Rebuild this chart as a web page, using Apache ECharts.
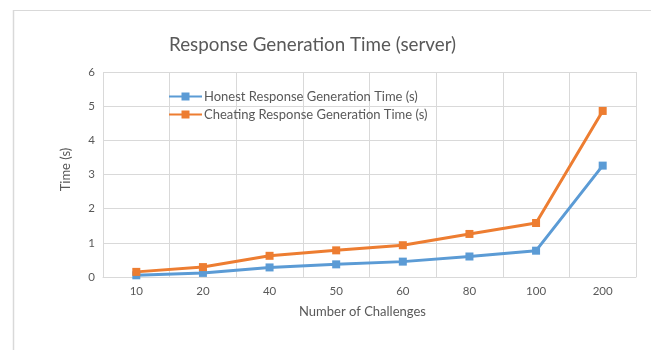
<!DOCTYPE html>
<html><head><meta charset="utf-8">
<script src="https://cdn.jsdelivr.net/npm/echarts@6/dist/echarts.min.js"></script>
<style>html,body{margin:0;padding:0;background:#fff}#c{width:651px;height:359px}</style>
</head><body><div id="c"></div>
<script>
const categories = ['10','20','40','50','60','80','100','200'];
const honest = [0.05, 0.12, 0.28, 0.37, 0.45, 0.60, 0.77, 3.26];
const cheating = [0.15, 0.29, 0.62, 0.78, 0.93, 1.26, 1.58, 4.86];
const seriesNames = ['Honest Response Generation Time (s)', 'Cheating Response Generation Time (s)'];
const txt = '#595959';
const font = 'Lato';
const chart = echarts.init(document.getElementById('c'), null, {renderer:'canvas'});
chart.setOption({
  animation: false,
  textStyle: {fontFamily: font},
  title: {text: 'Response Generation Time (server)', left: 164, top: 30, textStyle:{fontFamily: font, fontSize: 18.8, fontWeight: 'normal', color: txt}},
  graphic: [
    {type:'line', shape:{x1:13, y1:10.5, x2:651, y2:10.5}, style:{stroke:'#d9d9d9', lineWidth:1}},
    {type:'line', shape:{x1:13.5, y1:10, x2:13.5, y2:350}, style:{stroke:'#d9d9d9', lineWidth:1.5}}
  ],
  legend: {
    orient: 'vertical', left: 168, top: 90, padding: 0, itemGap: 5, itemWidth: 33, itemHeight: 10,
    textStyle: {fontFamily: font, fontSize: 13, color: txt, padding: [0, 0, 0, -3]},
    data: seriesNames
  },
  grid: {left: 103, right: 15, top: 72, bottom: 82, containLabel: false},
  xAxis: {
    type: 'category', data: categories, boundaryGap: true,
    name: 'Number of Challenges', nameLocation: 'middle', nameGap: 28,
    nameTextStyle: {fontFamily: font, fontSize: 13, color: txt, padding: [0, 14, 0, 0]},
    axisLine: {lineStyle: {color: '#d9d9d9'}}, axisTick: {show: false},
    axisLabel: {color: txt, fontSize: 11.5, fontFamily: font, margin: 8},
    splitLine: {show: true, lineStyle: {color: '#d9d9d9'}}
  },
  yAxis: {
    type: 'value', min: 0, max: 6, interval: 1,
    name: 'Time (s)', nameLocation: 'middle', nameGap: 31, nameRotate: 90,
    nameTextStyle: {fontFamily: font, fontSize: 13, color: txt, padding: [0, 0, 0, 10]},
    axisLine: {show: false}, axisTick: {show: false},
    axisLabel: {color: txt, fontSize: 11.5, fontFamily: font, margin: 8},
    splitLine: {show: true, lineStyle: {color: '#d9d9d9'}}
  },
  series: [
    {name: seriesNames[0], type: 'line', data: honest, symbol: 'rect', symbolSize: 8,
     lineStyle: {color: '#5B9BD5', width: 3}, itemStyle: {color: '#5B9BD5'}},
    {name: seriesNames[1], type: 'line', data: cheating, symbol: 'rect', symbolSize: 8,
     lineStyle: {color: '#ED7D31', width: 3}, itemStyle: {color: '#ED7D31'}}
  ]
});
</script></body></html>
